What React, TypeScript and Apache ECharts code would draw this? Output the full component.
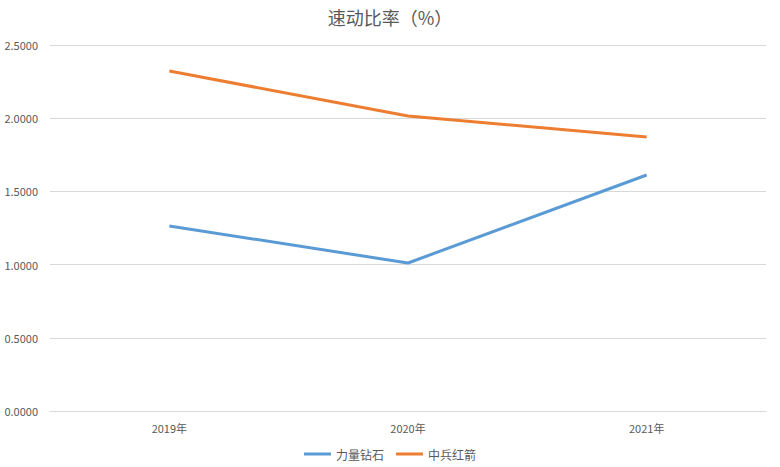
import React, { useEffect, useRef } from "react";
import * as echarts from "echarts";

const categories = ["2019年", "2020年", "2021年"];
const seriesNames = ["力量钻石", "中兵红箭"];
const liliang = [1.264, 1.011, 1.612];
const zhongbing = [2.322, 2.015, 1.872];
const titleText = "速动比率（%）";

export default function App() {
  const ref = useRef<HTMLDivElement>(null);
  useEffect(() => {
    const chart = echarts.init(ref.current!, undefined, { renderer: "svg" });
    const font = "'Microsoft YaHei', 'Noto Sans CJK SC', 'Noto Sans', sans-serif";
    chart.setOption({
      animation: false,
      backgroundColor: "#ffffff",
      title: {
        text: titleText,
        left: "center",
        top: 3,
        textStyle: { fontSize: 18, fontWeight: "normal", color: "#595959", fontFamily: font },
      },
      legend: {
        data: seriesNames,
        bottom: 2,
        left: "center",
        icon: "rect",
        itemWidth: 27,
        itemHeight: 3,
        itemGap: 12,
        textStyle: { fontSize: 12, color: "#595959", fontFamily: font },
      },
      grid: { left: 50, right: 14, top: 45, bottom: 56, containLabel: false },
      xAxis: {
        type: "category",
        data: categories,
        boundaryGap: true,
        axisLine: { show: true, lineStyle: { color: "#d9d9d9" } },
        axisTick: { show: false },
        axisLabel: { color: "#595959", fontSize: 11, margin: 11, fontFamily: font },
      },
      yAxis: {
        type: "value",
        min: 0,
        max: 2.5,
        interval: 0.5,
        axisLine: { show: false },
        axisTick: { show: false },
        axisLabel: {
          color: "#595959",
          fontSize: 11,
          margin: 12,
          fontFamily: font,
          formatter: (v: number) => v.toFixed(4),
        },
        splitLine: { lineStyle: { color: "#d9d9d9" } },
      },
      series: [
        {
          name: seriesNames[0],
          type: "line",
          data: liliang,
          symbol: "none",
          lineStyle: { width: 3, color: "#5B9BD5" },
          itemStyle: { color: "#5B9BD5" },
        },
        {
          name: seriesNames[1],
          type: "line",
          data: zhongbing,
          symbol: "none",
          lineStyle: { width: 3, color: "#ED7D31" },
          itemStyle: { color: "#ED7D31" },
        },
      ],
    });
    return () => chart.dispose();
  }, []);
  return <div ref={ref} style={{ width: 780, height: 467, position: "absolute", left: 0, top: 0 }} />;
}
